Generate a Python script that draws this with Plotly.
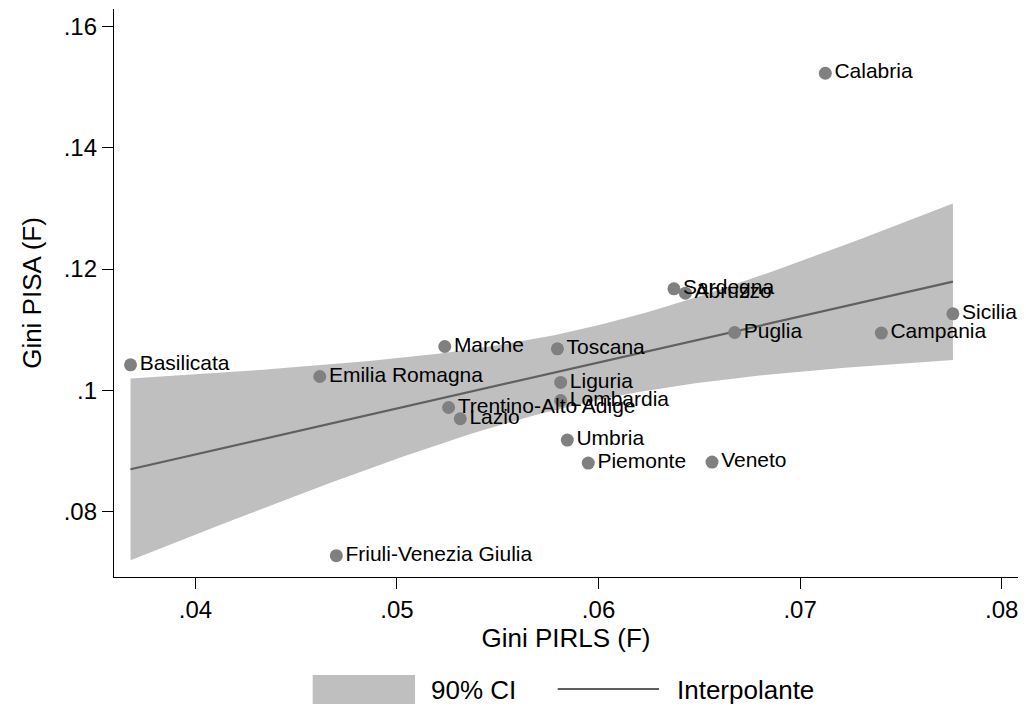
import numpy as np
import plotly.graph_objects as go

# Regional inequality indices (female students)
regioni = [
    "Calabria", "Sardegna", "Abruzzo", "Sicilia", "Puglia", "Campania",
    "Marche", "Toscana", "Basilicata", "Emilia Romagna", "Liguria",
    "Lombardia", "Trentino-Alto Adige", "Lazio", "Umbria", "Piemonte",
    "Veneto", "Friuli-Venezia Giulia",
]
gini_pirls = [
    0.07125, 0.06374, 0.06431, 0.07758, 0.06675, 0.07403,
    0.05237, 0.05796, 0.03678, 0.04617, 0.05812,
    0.05812, 0.05256, 0.05314, 0.05845, 0.05949,
    0.06563, 0.04699,
]
gini_pisa = [
    0.15225, 0.11674, 0.11603, 0.11263, 0.10955, 0.10945,
    0.10724, 0.10686, 0.10423, 0.10230, 0.10132,
    0.09835, 0.09720, 0.09534, 0.09183, 0.08805,
    0.08821, 0.07279,
]

x_ticks = [0.04, 0.05, 0.06, 0.07, 0.08]
x_tick_labels = [".04", ".05", ".06", ".07", ".08"]
y_ticks = [0.08, 0.10, 0.12, 0.14, 0.16]
y_tick_labels = [".08", ".1", ".12", ".14", ".16"]

T_90 = 1.746  # Student t, 0.95 quantile, 16 degrees of freedom

# Linear fit with 90% confidence band for the mean prediction
x = np.array(gini_pirls)
y = np.array(gini_pisa)
n = len(x)
xm = x.mean()
sxx = ((x - xm) ** 2).sum()
b1 = ((x - xm) * (y - y.mean())).sum() / sxx
b0 = y.mean() - b1 * xm
resid = y - (b0 + b1 * x)
s = np.sqrt((resid ** 2).sum() / (n - 2))
xg = np.linspace(x.min(), x.max(), 100)
yg = b0 + b1 * xg
half = T_90 * s * np.sqrt(1.0 / n + (xg - xm) ** 2 / sxx)
lo = yg - half
hi = yg + half

BAND = "#bfbfbf"
LINE = "#606060"
DOT = "#808080"
FONT = "Liberation Sans, Arial, sans-serif"

fig = go.Figure()
fig.add_trace(go.Scatter(
    x=np.concatenate([xg, xg[::-1]]), y=np.concatenate([hi, lo[::-1]]),
    fill="toself", fillcolor=BAND, line=dict(width=0), mode="lines",
    hoverinfo="skip", showlegend=False,
))
fig.add_trace(go.Scatter(
    x=xg, y=yg, mode="lines", line=dict(color=LINE, width=2.2),
    showlegend=False,
))
fig.add_trace(go.Scatter(
    x=gini_pirls, y=gini_pisa, mode="markers+text", text=regioni,
    textposition="middle right",
    textfont=dict(family=FONT, size=21, color="black"),
    marker=dict(color=DOT, size=13, line=dict(width=0)),
    cliponaxis=False, showlegend=False,
))

axis_common = dict(
    showgrid=False, zeroline=False, showline=True, linecolor="black",
    linewidth=1.3, ticks="outside", ticklen=11, tickwidth=1.3,
    tickcolor="black", tickfont=dict(family=FONT, size=24, color="black"),
)
fig.update_xaxes(
    range=[0.03596, 0.08081], tickvals=x_ticks, ticktext=x_tick_labels,
    title=dict(text="Gini PIRLS (F)", font=dict(family=FONT, size=26, color="black"), standoff=4),
    **axis_common,
)
fig.update_yaxes(
    range=[0.06928, 0.16283], tickvals=y_ticks, ticktext=y_tick_labels,
    title=dict(text="Gini PISA (F)", font=dict(family=FONT, size=26, color="black"), standoff=14),
    **axis_common,
)

# Legend drawn below the plot: filled swatch for the band, a line for the fit
shapes = [
    dict(type="rect", xref="paper", yref="paper", x0=0.2198, x1=0.3330,
         y0=-0.2236, y1=-0.1725, fillcolor=BAND, line=dict(width=0)),
    dict(type="line", xref="paper", yref="paper", x0=0.4908, x1=0.6029,
         y0=-0.1972, y1=-0.1972, line=dict(color=LINE, width=2.2)),
]
annotations = [
    dict(text="90% CI", xref="paper", yref="paper", x=0.3485, y=-0.1981,
         xanchor="left", yanchor="middle", showarrow=False,
         font=dict(family=FONT, size=26, color="black")),
    dict(text="Interpolante", xref="paper", yref="paper", x=0.6206, y=-0.1981,
         xanchor="left", yanchor="middle", showarrow=False,
         font=dict(family=FONT, size=26, color="black")),
]

fig.update_layout(
    width=1026, height=709,
    margin=dict(l=114, r=8, t=9, b=132),
    paper_bgcolor="white", plot_bgcolor="white",
    shapes=shapes, annotations=annotations,
    showlegend=False,
)

fig.write_html("out.html")
